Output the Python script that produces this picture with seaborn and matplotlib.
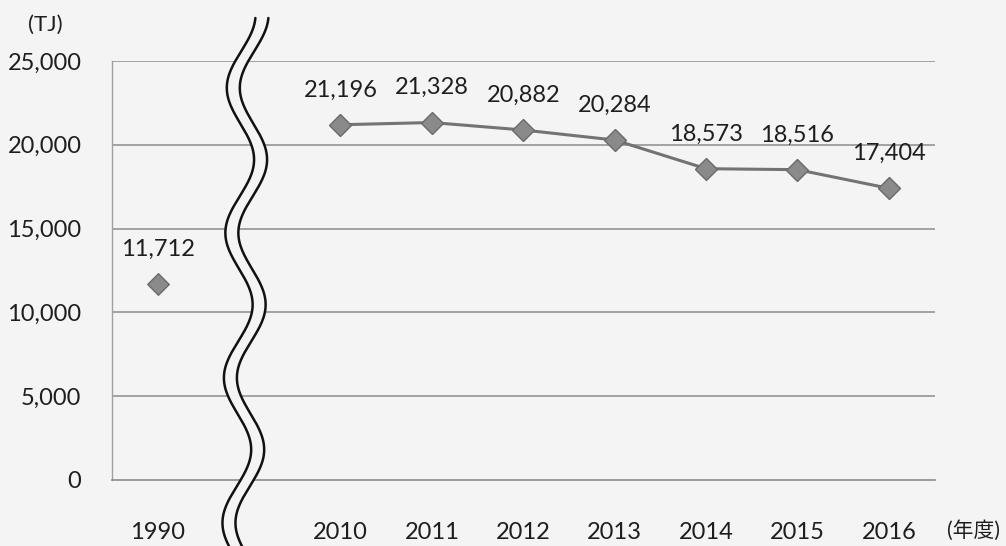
import numpy as np
import pandas as pd
import seaborn as sns
import matplotlib.pyplot as plt

# Data
years = ['1990', '2010', '2011', '2012', '2013', '2014', '2015', '2016']
values = [11712, 21196, 21328, 20882, 20284, 18573, 18516, 17404]
y_ticks = [0, 5000, 10000, 15000, 20000, 25000]

# slot 1 is left empty for the axis break
positions = [0] + list(range(2, 2 + len(years) - 1))
df = pd.DataFrame({'pos': positions, 'year': years, 'value': values})

sns.set_style('white')
plt.rcParams['font.family'] = ['Lato', 'Noto Sans CJK JP', 'DejaVu Sans']

bg = '#f4f4f4'
grid_col = '#8c8c8c'
line_col = '#737373'
txt_col = '#1e1e1e'

fig = plt.figure(figsize=(10.06, 5.46), dpi=100, facecolor=bg)
ax = fig.add_axes([0.1113, 0.1209, 0.929 - 0.1113, 0.8883 - 0.1209])
ax.set_facecolor(bg)

for y in y_ticks[1:]:
    ax.axhline(y, color=grid_col, lw=1.1, zorder=1)

sns.lineplot(data=df[df['pos'] > 0], x='pos', y='value', ax=ax, color=line_col,
             lw=2.2, marker='D', markersize=11, markerfacecolor='#8a8a8a',
             markeredgecolor='#6a6a6a', markeredgewidth=1, zorder=3)
sns.scatterplot(data=df[df['pos'] == 0], x='pos', y='value', ax=ax, marker='D',
                s=120, color='#8a8a8a', edgecolor='#6a6a6a', linewidth=1, zorder=3)

for _, r in df.iterrows():
    ax.annotate(f"{r['value']:,}", (r['pos'], r['value']), xytext=(0, 25),
                textcoords='offset points', ha='center', va='center',
                fontsize=17, color=txt_col)

ax.set_xlim(-0.5, 8.5)
ax.set_ylim(0, 25000)
ax.set_xticks(positions)
ax.set_xticklabels(years)
ax.set_xticks(np.arange(-0.5, 9.0, 1.0), minor=True)
ax.set_yticks(y_ticks)
ax.set_yticklabels([f"{v:,}" for v in y_ticks])
ax.set_xlabel('')
ax.set_ylabel('')

ax.tick_params(axis='x', which='major', length=0, pad=30, labelsize=17, labelcolor=txt_col)
ax.tick_params(axis='x', which='minor', length=7, width=1.2, color=grid_col, direction='out')
ax.tick_params(axis='y', length=6, width=1.1, color=grid_col, pad=16, labelsize=17,
               labelcolor=txt_col)

for s in ['top', 'right']:
    ax.spines[s].set_visible(False)
ax.spines['left'].set_color('#a0a0a0')
ax.spines['left'].set_linewidth(1.0)
ax.spines['bottom'].set_color(grid_col)
ax.spines['bottom'].set_linewidth(1.2)

fig.text(28 / 1006, 1 - 25 / 546, '(TJ)', fontsize=16, va='center', ha='left',
         color=txt_col)
fig.text(1000 / 1006, 1 - 530 / 546, '(年度)', fontsize=15, va='center', ha='right',
         color=txt_col)

# wavy break marks, in figure pixels
W, H = 1006, 546
yy = np.linspace(18, 560, 400)
xc = 248 + 14 * np.cos(2 * np.pi * (yy - 15) / 145) - (yy - 18) * 0.01
fx = lambda x: x / W
fy = lambda y: 1 - y / H
fig.add_artist(plt.Line2D(fx(xc), fy(yy), color=bg, lw=9, zorder=10))
for off in (-6.5, 6.5):
    fig.add_artist(plt.Line2D(fx(xc + off), fy(yy), color='#111111', lw=1.8, zorder=11))

fig.savefig('out.png', dpi=100, facecolor=bg)
